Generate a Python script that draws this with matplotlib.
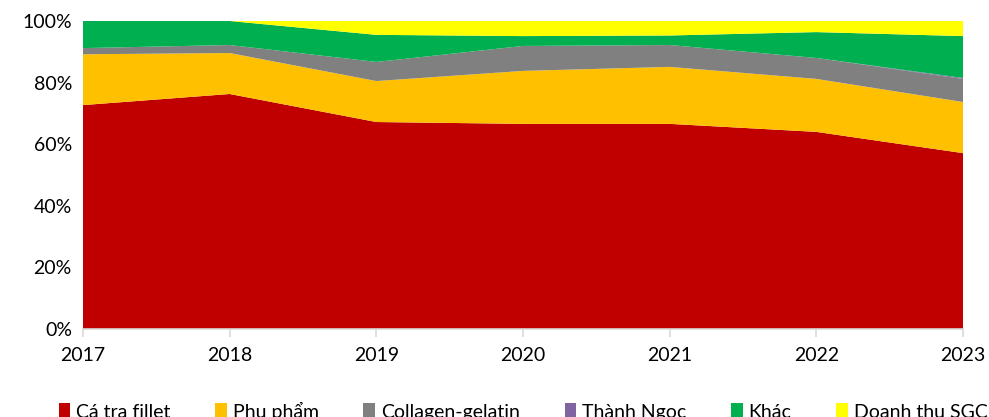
import matplotlib
matplotlib.use("Agg")
import matplotlib.pyplot as plt
from matplotlib.ticker import FuncFormatter

plt.rcParams['font.family'] = ['Lato', 'Open Sans', 'DejaVu Sans']

# co cau doanh thu theo nam (%)
years = [2017, 2018, 2019, 2020, 2021, 2022, 2023]
ca_tra_fillet = [72.7, 76.3, 67.2, 66.6, 66.6, 64.0, 57.1]
phu_pham = [16.5, 13.3, 13.3, 17.2, 18.5, 17.2, 16.6]
collagen_gelatin = [2.0, 2.6, 6.2, 8.1, 7.1, 6.8, 7.5]
thanh_ngoc = [0.0, 0.0, 0.0, 0.0, 0.0, 0.0, 0.3]
khac = [8.8, 7.8, 8.8, 3.2, 3.1, 8.4, 13.6]
doanh_thu_sgc = [0.0, 0.0, 4.5, 4.9, 4.7, 3.6, 4.9]

labels = ['Cá tra fillet', 'Phụ phẩm', 'Collagen-gelatin', 'Thành Ngọc', 'Khác', 'Doanh thu SGC']
colors = ['#C00000', '#FFC000', '#808080', '#8064A2', '#00B050', '#FFFF00']

fig = plt.figure(figsize=(9.89, 4.17), dpi=100)
ax = fig.add_axes([83 / 989, 88 / 417, 880 / 989, 308 / 417])

ax.stackplot(years, ca_tra_fillet, phu_pham, collagen_gelatin, thanh_ngoc, khac, doanh_thu_sgc,
             labels=labels, colors=colors, linewidth=0)
ax.axhline(100, color='#D9D9D9', lw=1.2, zorder=0)

ax.set_xlim(2017, 2023)
ax.set_ylim(0, 100)
ax.set_xticks(years)
ax.set_yticks(range(0, 101, 20))
ax.yaxis.set_major_formatter(FuncFormatter(lambda v, p: f'{v:.0f}%'))

for s in ['top', 'right', 'left']:
    ax.spines[s].set_visible(False)
ax.spines['bottom'].set_color('#D9D9D9')
ax.spines['bottom'].set_linewidth(1.2)
ax.spines['bottom'].set_zorder(5)

ax.tick_params(axis='y', length=0, pad=8, labelsize=14, labelcolor='black')
ax.tick_params(axis='x', length=6, width=1.2, color='#D9D9D9', pad=7, labelsize=14)

# chu thich o duoi, bi cat mot phan o mep anh
ax.legend(loc='center', bbox_to_anchor=(0.5, (6 - 88) / 308), ncol=6, frameon=False,
          fontsize=14, handlelength=0.6, handleheight=0.9, handletextpad=0.3,
          columnspacing=2.3)

fig.savefig('out.png', dpi=100)
